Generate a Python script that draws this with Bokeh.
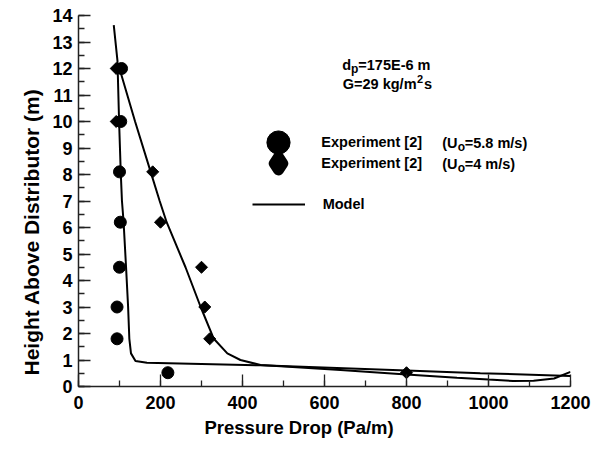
import math
from bokeh.plotting import figure
from bokeh.models import (Range1d, SingleIntervalTicker, Label, Legend, LegendItem, Title)
from bokeh.embed import file_html
from bokeh.resources import INLINE

# ---- data ----
circ_x = [105, 103, 100, 102, 100, 94, 94, 218]
circ_y = [12.0, 10.0, 8.1, 6.2, 4.5, 3.0, 1.8, 0.52]

diam_x = [92, 92, 181, 200, 300, 308, 320, 800]
diam_y = [12.0, 10.0, 8.1, 6.2, 4.5, 3.0, 1.8, 0.52]

model_a_x = [86, 95, 99, 103, 106, 110, 116, 121, 124, 128, 139, 167, 444, 800, 980, 1200]
model_a_y = [13.64, 12.3, 10.0, 8.1, 7.0, 6.2, 4.5, 3.0, 1.8, 1.25, 0.96, 0.9, 0.8, 0.6, 0.5, 0.4]

model_b_x = [100, 138, 176, 198, 215, 261, 298, 330, 363, 395, 444, 639, 800, 923, 1000, 1060, 1110, 1160, 1200]
model_b_y = [12.0, 10.0, 8.1, 7.0, 6.2, 4.5, 3.0, 1.8, 1.25, 1.0, 0.81, 0.62, 0.45, 0.33, 0.26, 0.21, 0.22, 0.3, 0.55]

x_title = "Pressure Drop (Pa/m)"
y_title = "Height Above Distributor (m)"
legend_label = "Experiment [2]"
legend_model = "Model"

FONT = "Liberation Sans"
FL, FB = 78, 386  # frame left / bottom in canvas pixels
DY = 4            # label baseline correction

p = figure(width=604, height=450, output_backend="svg", toolbar_location=None,
           x_range=Range1d(0, 1200), y_range=Range1d(0, 14),
           min_border_left=FL, min_border_right=34, min_border_top=15,
           min_border_bottom=450 - FB)
p.outline_line_color = None
p.xgrid.visible = False
p.ygrid.visible = False
p.background_fill_color = "white"
p.border_fill_color = "white"

for ax in (p.xaxis[0], p.yaxis[0]):
    ax.axis_line_width = 1.5
    ax.axis_line_color = "#222222"
    ax.major_tick_line_color = "#222222"
    ax.minor_tick_line_color = "#222222"
    ax.major_tick_line_width = 1.3
    ax.minor_tick_line_width = 1.3
    ax.major_tick_in = 12
    ax.major_tick_out = 0
    ax.minor_tick_in = 6
    ax.minor_tick_out = 0
    ax.major_label_text_font = FONT
    ax.major_label_text_font_style = "bold"
    ax.major_label_text_font_size = "18px"
    ax.major_label_text_color = "black"

p.xaxis[0].ticker = SingleIntervalTicker(interval=200, num_minor_ticks=2)
p.yaxis[0].ticker = SingleIntervalTicker(interval=1, num_minor_ticks=2)
p.xaxis[0].major_label_standoff = 9
p.yaxis[0].major_label_standoff = 6

# axis titles as side-panel titles (placed like the reference)
p.add_layout(Title(text=x_title, align="left", offset=126, standoff=6,
                   text_font=FONT, text_font_style="bold", text_font_size="18.5px",
                   text_color="black"), "below")
p.add_layout(Title(text=y_title, align="left", offset=11, standoff=14,
                   text_font=FONT, text_font_style="bold", text_font_size="21px",
                   text_color="black"), "left")

ra = p.line(model_a_x, model_a_y, line_color="black", line_width=2)
rb = p.line(model_b_x, model_b_y, line_color="black", line_width=2)
rc = p.scatter(circ_x, circ_y, marker="circle", size=12, fill_color="black", line_color="black")
# legend key style for the diamond series (hidden beneath the plotted diamonds)
rd_key = p.scatter(diam_x, diam_y, marker="diamond", size=0, fill_color="black",
                   line_color="black", line_width=11, line_join="round")
rd = p.scatter(diam_x, diam_y, marker="square", angle=math.pi / 4, size=8.5,
               fill_color="black", line_color="black")


def put(text, cx, cy, size, align="left", baseline="alphabetic", angle=0.0):
    p.add_layout(Label(x=cx - FL, y=FB - (cy - DY), x_units="screen", y_units="screen",
                       text=text, text_font=FONT, text_font_style="bold",
                       text_font_size=f"{size}px", text_align=align,
                       text_baseline=baseline, angle=angle, text_color="black"))


# header annotation
put("d", 341.7, 68.3, 14.5)
put("p", 350.5, 72.0, 12)
put("=175E-6 m", 357.8, 68.3, 14.5)
put("G=29 kg/m", 342.3, 87.7, 14.5)
put("2", 416.5, 82.5, 11)
put("s", 423.5, 87.7, 14.5)


def make_legend(renderer, label, gx, gcy, gw, gh, standoff):
    leg = Legend(items=[LegendItem(label=label, renderers=[renderer])],
                 location=(gx - FL, FB - (gcy + gh / 2)),
                 glyph_width=gw, glyph_height=gh, label_standoff=standoff,
                 padding=0, margin=0, border_line_color=None,
                 background_fill_alpha=0, label_text_font=FONT,
                 label_text_font_style="bold", label_text_font_size="14.5px",
                 label_text_color="black")
    p.add_layout(leg)


make_legend(rc, legend_label, 278.3 - 29, 141.5, 58, 58, 14)
make_legend(rd_key, legend_label, 278.3 - 16, 163.0, 32, 32, 27)
make_legend(ra, legend_model, 251.7, 204, 53, 20, 18)

put("(U", 441.7, 146.7, 14.5)
put("o", 457.3, 150.7, 12)
put("=5.8 m/s)", 464.3, 146.7, 14.5)
put("(U", 441.7, 167.7, 14.5)
put("o", 457.3, 171.7, 12)
put("=4 m/s)", 464.3, 167.7, 14.5)

open("out.html", "w").write(file_html(p, INLINE))
